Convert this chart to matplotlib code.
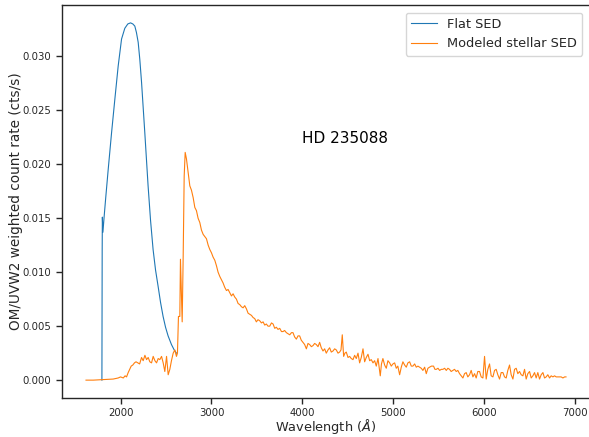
import matplotlib
matplotlib.use("Agg")
import matplotlib.pyplot as plt

# Flat SED (blue)
flat_wl = [1795, 1798, 1800, 1806, 1820, 1838, 1864, 1901, 1937, 1974, 2011, 2047,
           2080, 2110, 2135, 2157, 2175, 2194, 2212, 2231, 2267, 2303, 2330, 2358,
           2385, 2413, 2440, 2468, 2495, 2523, 2560, 2590, 2615]
flat_rate = [0.0, 0.0120, 0.0151, 0.0137, 0.0152, 0.0170, 0.0195, 0.0229, 0.0260,
             0.0291, 0.0316, 0.0326, 0.0330, 0.0331, 0.0330, 0.0328, 0.0322, 0.0313,
             0.0297, 0.0276, 0.0229, 0.0180, 0.0148, 0.0121, 0.0102, 0.0087, 0.0072,
             0.0059, 0.0049, 0.0041, 0.0033, 0.0028, 0.0025]

# Modeled stellar SED (orange)
star_wl = [
    1620, 1700, 1800, 1919, 1974, 2000, 2030, 2050, 2066, 2084,
    2100, 2117, 2135, 2153, 2170, 2190, 2210, 2231, 2249, 2268,
    2286, 2304, 2322, 2341, 2359, 2378, 2396, 2414, 2432, 2451,
    2469, 2487, 2506, 2524, 2542, 2560, 2579, 2597, 2615, 2626,
    2637, 2652, 2659, 2667, 2678, 2689, 2700, 2711, 2725, 2743,
    2762, 2780, 2799, 2817, 2835, 2853, 2872, 2890, 2909, 2927,
    2945, 2964, 2982, 3000, 3018, 3037, 3055, 3073, 3092, 3110,
    3128, 3146, 3165, 3183, 3201, 3220, 3238, 3256, 3275, 3293,
    3311, 3330, 3348, 3366, 3385, 3403, 3421, 3440, 3458, 3476,
    3494, 3512, 3531, 3550, 3568, 3586, 3604, 3622, 3641, 3660,
    3678, 3696, 3714, 3732, 3751, 3770, 3787, 3805, 3824, 3842,
    3861, 3880, 3897, 3915, 3934, 3952, 3970, 3988, 4007, 4025,
    4044, 4062, 4080, 4099, 4117, 4135, 4153, 4172, 4190, 4208,
    4227, 4245, 4263, 4282, 4300, 4318, 4337, 4355, 4373, 4392,
    4410, 4425, 4439, 4454, 4468, 4483, 4502, 4520, 4538, 4557,
    4575, 4593, 4612, 4630, 4648, 4667, 4685, 4703, 4722, 4740,
    4758, 4777, 4795, 4813, 4832, 4857, 4870, 4886, 4905, 4923,
    4941, 4960, 4978, 4996, 5015, 5033, 5050, 5070, 5088, 5106,
    5125, 5143, 5161, 5180, 5198, 5216, 5235, 5253, 5271, 5289,
    5308, 5326, 5345, 5363, 5381, 5399, 5420, 5443, 5458, 5473,
    5492, 5510, 5528, 5546, 5565, 5583, 5601, 5619, 5637, 5655,
    5674, 5692, 5710, 5729, 5747, 5766, 5784, 5802, 5820, 5839,
    5857, 5876, 5894, 5912, 5930, 5949, 5967, 5986, 6004, 6022,
    6040, 6059, 6077, 6096, 6114, 6132, 6150, 6169, 6187, 6206,
    6224, 6242, 6260, 6279, 6297, 6316, 6334, 6352, 6370, 6389,
    6407, 6426, 6444, 6462, 6480, 6499, 6517, 6536, 6554, 6572,
    6590, 6609, 6627, 6646, 6664, 6682, 6700, 6719, 6737, 6756,
    6774, 6792, 6810, 6829, 6847, 6866, 6885, 6900,
]
star_rate = [
    0.0, 0.0, 0.00005, 0.0001, 0.0002, 0.0003, 0.0002, 0.0004, 0.0003, 0.0007,
    0.0010, 0.0013, 0.0014, 0.0016, 0.0017, 0.0016, 0.0015, 0.0021, 0.0018, 0.0023,
    0.0019, 0.0021, 0.0017, 0.0016, 0.0022, 0.0018, 0.0016, 0.0020, 0.0019, 0.0022,
    0.0016, 0.0008, 0.0022, 0.0005, 0.0010, 0.0018, 0.0025, 0.0028, 0.0022, 0.0025,
    0.0059, 0.0059, 0.0112, 0.0089, 0.0054, 0.0115, 0.0189, 0.0211, 0.0205, 0.0193,
    0.0180, 0.0176, 0.0169, 0.0160, 0.0157, 0.0150, 0.0146, 0.0139, 0.0135, 0.0133,
    0.0131, 0.0125, 0.0121, 0.0118, 0.0114, 0.0111, 0.0106, 0.0100, 0.0096, 0.0093,
    0.0090, 0.0086, 0.0083, 0.0084, 0.0081, 0.0078, 0.0080, 0.0077, 0.0075, 0.0071,
    0.0070, 0.0068, 0.0067, 0.0069, 0.0066, 0.0062, 0.0061, 0.0060, 0.0058, 0.0057,
    0.0054, 0.0056, 0.0055, 0.0053, 0.0054, 0.0051, 0.0052, 0.0050, 0.0050, 0.0053,
    0.0052, 0.0048, 0.0049, 0.0047, 0.0048, 0.0045, 0.0045, 0.0046, 0.0044, 0.0043,
    0.0042, 0.0044, 0.0044, 0.0040, 0.0038, 0.0041, 0.0041, 0.0037, 0.0035, 0.0033,
    0.0029, 0.0034, 0.0033, 0.0031, 0.0032, 0.0034, 0.0033, 0.0031, 0.0035, 0.0030,
    0.0027, 0.0029, 0.0025, 0.0028, 0.0030, 0.0026, 0.0027, 0.0029, 0.0028, 0.0025,
    0.0026, 0.0028, 0.0042, 0.0022, 0.0025, 0.0026, 0.0021, 0.0022, 0.0020, 0.0019,
    0.0023, 0.0020, 0.0025, 0.0016, 0.0021, 0.0029, 0.0017, 0.0021, 0.0024, 0.0018,
    0.0019, 0.0016, 0.0018, 0.0013, 0.0020, 0.0004, 0.0015, 0.0020, 0.0014, 0.0011,
    0.0018, 0.0016, 0.0013, 0.0015, 0.0016, 0.0011, 0.0013, 0.0005, 0.0012, 0.0017,
    0.0014, 0.0012, 0.0016, 0.0017, 0.0013, 0.0013, 0.0015, 0.0012, 0.0013, 0.0012,
    0.0011, 0.0009, 0.0012, 0.0006, 0.0011, 0.0012, 0.0013, 0.0013, 0.0010, 0.0010,
    0.0011, 0.0009, 0.0010, 0.0010, 0.0011, 0.0009, 0.0011, 0.0010, 0.0008, 0.0009,
    0.0010, 0.0008, 0.0009, 0.0006, 0.0004, 0.0002, 0.0006, 0.0007, 0.0003, 0.0005,
    0.0009, 0.0003, 0.0006, 0.0002, 0.0008, 0.0008, 0.0003, 0.0002, 0.0022, 0.0001,
    0.0010, 0.0015, 0.0004, 0.0003, 0.0009, 0.0010, 0.0005, 0.0001, 0.0007, 0.0007,
    0.0003, 0.0002, 0.0009, 0.0014, 0.0005, 0.0001, 0.0010, 0.0011, 0.0006, 0.0008,
    0.0005, 0.0004, 0.0010, 0.0001, 0.0006, 0.0008, 0.0002, 0.0004, 0.0007, 0.0002,
    0.0007, 0.0001, 0.0005, 0.0007, 0.0002, 0.0003, 0.0005, 0.0002, 0.0004, 0.0003,
    0.0004, 0.0003, 0.0003, 0.0003, 0.0003, 0.0002, 0.0003, 0.0003,
]

x_ticks = [2000, 3000, 4000, 5000, 6000, 7000]
y_ticks = [0.000, 0.005, 0.010, 0.015, 0.020, 0.025, 0.030]

text_col = "#262626"
fig = plt.figure(figsize=(5.89, 4.37), dpi=100)
ax = fig.add_axes([62 / 589, 39 / 437, 528 / 589, 393 / 437])

ax.plot(flat_wl, flat_rate, color="#1f77b4", lw=0.8, label="Flat SED")
ax.plot(star_wl, star_rate, color="#ff7f0e", lw=0.8, label="Modeled stellar SED")

ax.set_xticks(x_ticks)
ax.set_yticks(y_ticks)
ax.set_yticklabels([f"{v:.3f}" for v in y_ticks])
ax.tick_params(direction="out", length=4, width=1, labelsize=7.3, colors=text_col)
for sp in ax.spines.values():
    sp.set_color(text_col)
    sp.set_linewidth(1.0)

ax.set_xlabel(r"Wavelength ($\AA$)", fontsize=9.3, color=text_col, labelpad=-1)
ax.set_ylabel("OM/UVW2 weighted count rate (cts/s)", fontsize=9.8, color=text_col, labelpad=0)
ax.text(4000, 0.022, "HD 235088", fontsize=11, color="black")

leg = ax.legend(loc="upper right", fontsize=9.3, framealpha=0.8, borderaxespad=0.6)
for t in leg.get_texts():
    t.set_color(text_col)

fig.savefig("out.png", dpi=100)
